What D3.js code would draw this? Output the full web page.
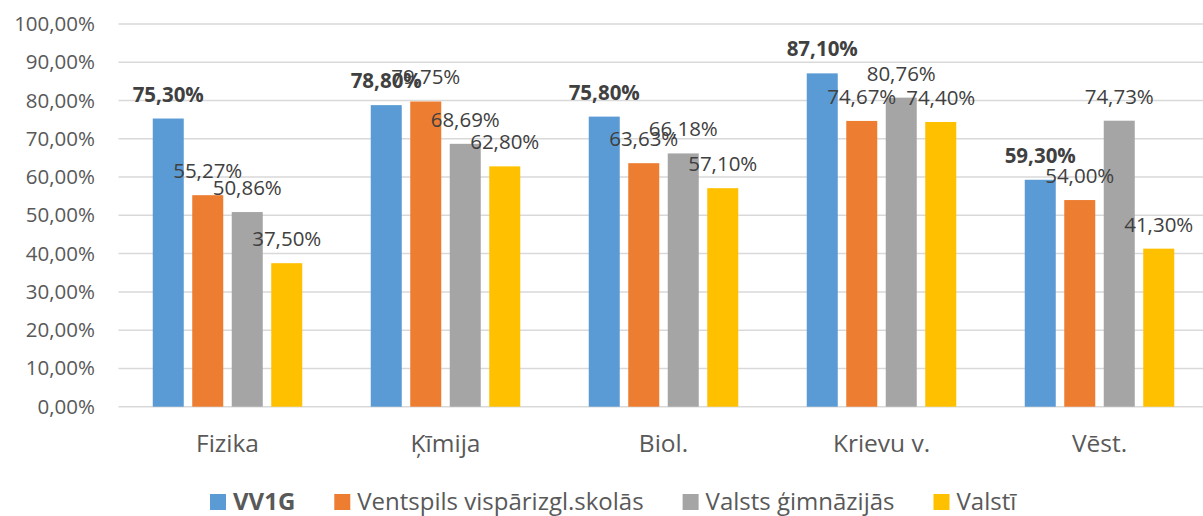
<!DOCTYPE html>
<html>
<head>
<meta charset="utf-8">
<script src="https://cdn.jsdelivr.net/npm/d3@7"></script>
<style>
  body { margin: 0; background: #fff; }
  svg text { font-family: "Open Sans", "Noto Sans", sans-serif; }
</style>
</head>
<body>
<div id="chart"></div>
<script>
// DATA
var categories = ["Fizika", "Ķīmija", "Biol.", "Krievu v.", "Vēst."];
var seriesNames = ["VV1G", "Ventspils vispārizgl.skolās", "Valsts ģimnāzijās", "Valstī"];
var vv1g = [75.30, 78.80, 75.80, 87.10, 59.30];
var ventspils = [55.27, 79.75, 63.63, 74.67, 54.00];
var gimnazijas = [50.86, 68.69, 66.18, 80.76, 74.73];
var valsti = [37.50, 62.80, 57.10, 74.40, 41.30];
var yTicks = [0, 10, 20, 30, 40, 50, 60, 70, 80, 90, 100];

var seriesValues = [vv1g, ventspils, gimnazijas, valsti];
var colors = ["#5B9BD5", "#ED7D31", "#A5A5A5", "#FFC000"];

// SIZES (plot area)
var W = 1203, H = 516;
var plotLeft = 118.5, plotRight = 1208.5, plotTop = 24, plotBottom = 406.7;

// latvian number format: comma as decimal
var lv = d3.formatLocale({ decimal: ",", thousands: " ", grouping: [3], currency: ["", " €"] });
var fmt = function (v) { return lv.format(".2f")(v) + "%"; };

var svg = d3.select("#chart").append("svg")
  .attr("width", W)
  .attr("height", H);

// scales
var x0 = d3.scaleBand()
  .domain(categories)
  .range([plotLeft, plotRight])
  .paddingInner(0)
  .paddingOuter(0);

var groupW = 149.5;
var x1 = d3.scaleBand()
  .domain(d3.range(seriesNames.length))
  .range([(x0.bandwidth() - groupW) / 2, (x0.bandwidth() + groupW) / 2])
  .paddingInner(0.215);

var y = d3.scaleLinear()
  .domain([0, 100])
  .range([plotBottom, plotTop]);

// gridlines
svg.append("g")
  .attr("class", "grid")
  .selectAll("line")
  .data(yTicks)
  .enter()
  .append("line")
  .attr("x1", plotLeft)
  .attr("x2", W)
  .attr("y1", function (d) { return y(d); })
  .attr("y2", function (d) { return y(d); })
  .attr("stroke", "#d9d9d9")
  .attr("stroke-width", 1.5);

// y axis labels
var yAxis = svg.append("g")
  .attr("transform", "translate(95,0)")
  .call(d3.axisLeft(y).tickValues(yTicks).tickSize(0).tickPadding(0).tickFormat(fmt));
yAxis.select(".domain").remove();
yAxis.selectAll("text")
  .attr("fill", "#595959")
  .style("font-size", "20.5px")
  .style("font-family", "'Open Sans', sans-serif");

// x axis labels
var xAxis = svg.append("g")
  .attr("transform", "translate(0," + plotBottom + ")")
  .call(d3.axisBottom(x0).tickSize(0).tickPadding(0));
xAxis.select(".domain").remove();
xAxis.selectAll("text")
  .attr("y", 45)
  .attr("dy", 0)
  .attr("fill", "#595959")
  .style("font-size", "24.5px")
  .style("font-family", "'Open Sans', sans-serif");

// bars
var groups = svg.append("g")
  .selectAll("g")
  .data(seriesValues)
  .enter()
  .append("g")
  .attr("fill", function (d, i) { return colors[i]; });

groups.each(function (vals, si) {
  d3.select(this).selectAll("rect")
    .data(vals)
    .enter()
    .append("rect")
    .attr("x", function (d, ci) { return x0(categories[ci]) + x1(si); })
    .attr("y", function (d) { return y(d); })
    .attr("width", x1.bandwidth())
    .attr("height", function (d) { return plotBottom - y(d); });
});

// data labels
seriesValues.forEach(function (vals, si) {
  svg.append("g")
    .selectAll("text")
    .data(vals)
    .enter()
    .append("text")
    .attr("x", function (d, ci) { return x0(categories[ci]) + x1(si) + x1.bandwidth() / 2; })
    .attr("y", function (d) { return y(d) - 17; })
    .attr("text-anchor", "middle")
    .attr("fill", "#404040")
    .style("font-size", "20.5px")
    .style("font-weight", si === 0 ? "bold" : "normal")
    .text(function (d) { return fmt(d); });
});

// legend
var legend = svg.append("g").attr("transform", "translate(210,0)");
var lx = 0;
seriesNames.forEach(function (name, i) {
  var item = legend.append("g").attr("transform", "translate(" + lx + ",0)");
  item.append("rect")
    .attr("x", 0)
    .attr("y", 494)
    .attr("width", 16)
    .attr("height", 16)
    .attr("fill", colors[i]);
  var t = item.append("text")
    .attr("x", 23)
    .attr("y", 510)
    .attr("fill", "#595959")
    .style("font-size", "24px")
    .style("font-weight", i === 0 ? "bold" : "normal")
    .text(name);
  lx += 23 + t.node().getComputedTextLength() + 39;
});
</script>
</body>
</html>
